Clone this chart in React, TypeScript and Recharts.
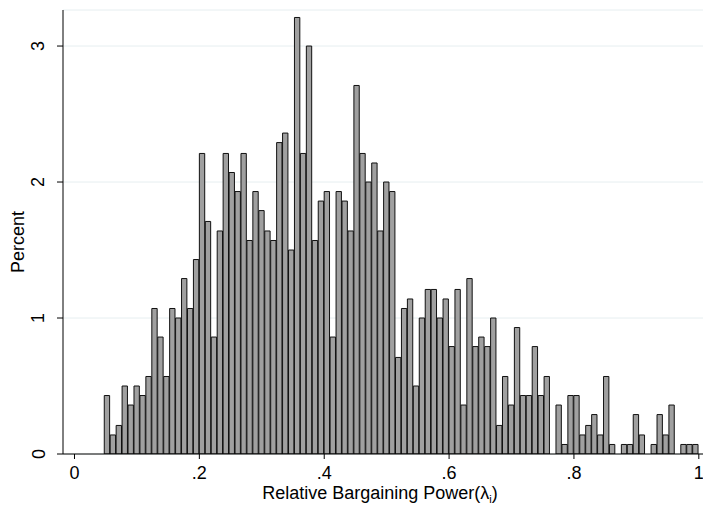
import { Bar, CartesianGrid, ComposedChart, Label, XAxis, YAxis } from 'recharts'

// histogram bins: lower edge of the first bin and the common bin width
const binStart = 0.0477
const binWidth = 0.00952

// percent of observations in each of the 100 bins
const percent = [
  0.43, 0.14, 0.21, 0.5, 0.36, 0.5, 0.43, 0.57, 1.07, 0.86,
  0.57, 1.07, 1.0, 1.29, 1.07, 1.43, 2.21, 1.71, 0.86, 1.64,
  2.21, 2.07, 1.93, 2.21, 1.57, 1.93, 1.79, 1.64, 1.57, 2.29,
  2.36, 1.5, 3.21, 2.21, 3.0, 1.57, 1.86, 1.93, 0.86, 1.93,
  1.86, 1.64, 2.71, 2.21, 2.0, 2.14, 1.64, 2.0, 1.93, 0.71,
  1.07, 1.14, 0.5, 1.0, 1.21, 1.21, 1.0, 1.14, 0.79, 1.21,
  0.36, 1.29, 0.79, 0.86, 0.79, 1.0, 0.21, 0.57, 0.36, 0.93,
  0.43, 0.43, 0.79, 0.43, 0.57, 0, 0.36, 0.07, 0.43, 0.43,
  0.14, 0.21, 0.29, 0.14, 0.57, 0.07, 0, 0.07, 0.07, 0.29,
  0.14, 0, 0.07, 0.29, 0.14, 0.36, 0, 0.07, 0.07, 0.07,
]

const xTicks = [0, 0.2, 0.4, 0.6, 0.8, 1]
const xTickLabels = ['0', '.2', '.4', '.6', '.8', '1']
const yTicks = [0, 1, 2, 3]

const WIDTH = 703
const HEIGHT = 508
const Y_AXIS_W = 63
const X_AXIS_H = 54
const TOP = 10
const X_DOMAIN: [number, number] = [-0.0184, 1.0067]
const Y_DOMAIN: [number, number] = [0, 3.265]
const FONT = '"Liberation Sans", Arial, Helvetica, sans-serif'

const data = percent.map((p, i) => ({ mid: binStart + (i + 0.5) * binWidth, pct: p }))
const barPx = (binWidth / (X_DOMAIN[1] - X_DOMAIN[0])) * (WIDTH - Y_AXIS_W)

function XTick({ x, y, payload }: any) {
  const i = xTicks.findIndex((t) => Math.abs(t - payload.value) < 1e-6)
  return (
    <text x={x} y={y + 20} textAnchor="middle" fontSize={18} fontFamily={FONT} fill="#000">
      {xTickLabels[i] ?? payload.value}
    </text>
  )
}

function YTick({ x, y, payload }: any) {
  const bx = x - 0.5
  return (
    <text
      x={bx}
      y={y}
      transform={`rotate(-90 ${bx} ${y})`}
      textAnchor="middle"
      fontSize={18}
      fontFamily={FONT}
      fill="#000"
    >
      {payload.value}
    </text>
  )
}

function XTitle() {
  return (
    <text x={380} y={499} textAnchor="middle" fontSize={18} fontFamily={FONT} fill="#000">
      Relative Bargaining Power(λ
      <tspan fontSize={11} dy={4}>i</tspan>
      <tspan dy={-4}>)</tspan>
    </text>
  )
}

function YTitle() {
  return (
    <text
      x={24}
      y={242}
      transform="rotate(-90 24 242)"
      textAnchor="middle"
      fontSize={18}
      fontFamily={FONT}
      fill="#000"
    >
      Percent
    </text>
  )
}

export default function App() {
  return (
    <div style={{ position: 'absolute', left: 0, top: 0, background: '#fff' }}>
      <ComposedChart
        width={WIDTH}
        height={HEIGHT}
        data={data}
        margin={{ top: TOP, right: 0, bottom: 0, left: 0 }}
        barGap={0}
        barCategoryGap={0}
      >
        <CartesianGrid vertical={false} stroke="#e6eef0" strokeWidth={1} />
        <XAxis
          type="number"
          dataKey="mid"
          domain={X_DOMAIN}
          allowDataOverflow
          ticks={xTicks}
          interval={0}
          height={X_AXIS_H}
          tickSize={5}
          tickMargin={0}
          axisLine={{ stroke: '#000', strokeWidth: 1 }}
          tickLine={{ stroke: '#000', strokeWidth: 1 }}
          tick={<XTick />}
        >
          <Label content={<XTitle />} />
        </XAxis>
        <YAxis
          type="number"
          domain={Y_DOMAIN}
          allowDataOverflow
          ticks={yTicks}
          interval={0}
          width={Y_AXIS_W}
          tickSize={6}
          tickMargin={12}
          axisLine={{ stroke: '#000', strokeWidth: 1 }}
          tickLine={{ stroke: '#000', strokeWidth: 1 }}
          tick={<YTick />}
        >
          <Label content={<YTitle />} />
        </YAxis>
        <Bar
          dataKey="pct"
          barSize={barPx}
          fill="#a0a0a0"
          stroke="#111"
          strokeWidth={1}
          isAnimationActive={false}
        />
      </ComposedChart>
    </div>
  )
}
